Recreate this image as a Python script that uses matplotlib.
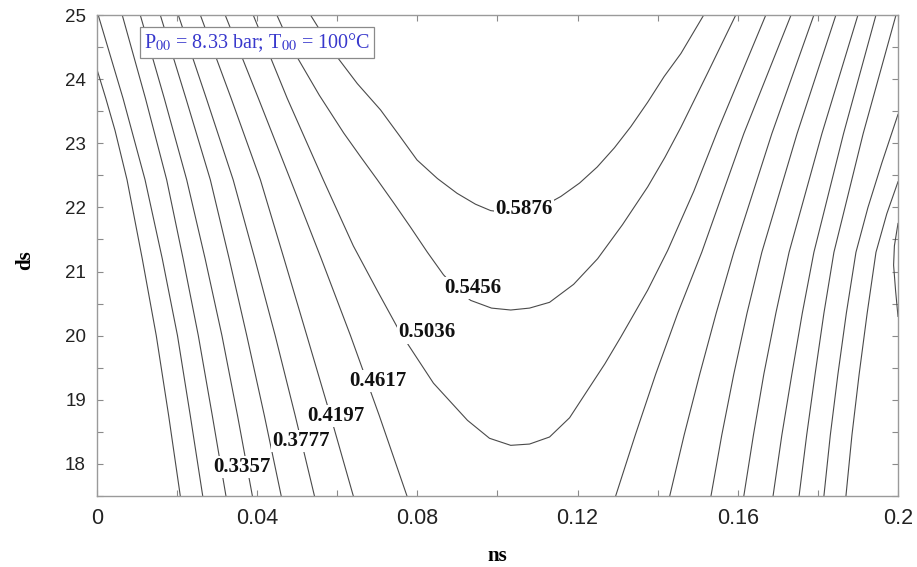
import matplotlib
matplotlib.use('Agg')
import matplotlib.pyplot as plt
from matplotlib.ticker import MultipleLocator

plt.rcParams['mathtext.fontset'] = 'stix'

# contour lines, (ns, ds) points per level
# left-hand family (efficiency rising with ns)
line_0168 = [(0.0208, 17.5), (0.0179, 18.75), (0.0148, 20.0), (0.0113, 21.2),
             (0.0075, 22.43), (0.0045, 23.2), (0.0022, 23.7), (0.0, 24.15)]
line_0210 = [(0.0264, 17.5), (0.0233, 18.75), (0.0201, 20.0), (0.0163, 21.2),
             (0.0120, 22.43), (0.0065, 23.7), (0.0003, 25.0)]
line_0252 = [(0.0322, 17.5), (0.0288, 18.75), (0.0253, 20.0), (0.0215, 21.2),
             (0.0174, 22.43), (0.0121, 23.7), (0.0063, 25.0)]
line_0294 = [(0.0388, 17.5), (0.0351, 18.75), (0.0312, 20.0), (0.0270, 21.2),
             (0.0224, 22.43), (0.0168, 23.7), (0.0108, 25.0)]
line_0336 = [(0.0460, 17.5), (0.0418, 18.75), (0.0374, 20.0), (0.0330, 21.2),
             (0.0283, 22.43), (0.0222, 23.7), (0.0158, 25.0)]
line_0378 = [(0.0543, 17.5), (0.0495, 18.75), (0.0445, 20.0), (0.0394, 21.2),
             (0.0340, 22.43), (0.0273, 23.7), (0.0203, 25.0)]
line_0420 = [(0.0640, 17.5), (0.0583, 18.75), (0.0524, 20.0), (0.0467, 21.2),
             (0.0408, 22.43), (0.0335, 23.7), (0.0258, 25.0)]
line_0462_l = [(0.0774, 17.5), (0.0705, 18.75), (0.0633, 20.0), (0.0560, 21.2),
               (0.0483, 22.43), (0.0403, 23.7), (0.0320, 25.0)]

# U shaped levels around the optimum
line_0504 = [(0.0390, 25.0), (0.0475, 23.7), (0.0565, 22.43), (0.0640, 21.4),
             (0.0700, 20.7), (0.0750, 20.13), (0.0778, 19.85), (0.0840, 19.26),
             (0.0925, 18.68), (0.0980, 18.40), (0.1033, 18.29), (0.1080, 18.31),
             (0.1130, 18.42), (0.1180, 18.72), (0.1225, 19.15), (0.1268, 19.56),
             (0.1308, 19.98), (0.1375, 20.71), (0.1425, 21.33), (0.1490, 22.25),
             (0.1550, 23.2), (0.1610, 24.1), (0.1670, 25.0)]
line_0546 = [(0.0449, 25.0), (0.0472, 24.68), (0.0499, 24.35), (0.0555, 23.75),
             (0.0616, 23.16), (0.0657, 22.8), (0.0700, 22.43), (0.0742, 22.06),
             (0.0783, 21.69), (0.0825, 21.3), (0.0865, 20.95), (0.0900, 20.72),
             (0.0933, 20.55), (0.0985, 20.43), (0.1033, 20.40), (0.1080, 20.43),
             (0.1130, 20.52), (0.1190, 20.80), (0.1250, 21.20), (0.1312, 21.73),
             (0.1375, 22.32), (0.1418, 22.78), (0.1458, 23.25), (0.1525, 24.1),
             (0.1595, 25.0)]
line_0588 = [(0.0533, 25.0), (0.0565, 24.68), (0.0599, 24.35), (0.0650, 23.93),
             (0.0708, 23.52), (0.0755, 23.12), (0.0799, 22.74), (0.0850, 22.45),
             (0.0899, 22.22), (0.0945, 22.05), (0.0983, 21.95), (0.1045, 21.90),
             (0.1100, 21.97), (0.1158, 22.17), (0.1205, 22.38), (0.1249, 22.63),
             (0.1292, 22.93), (0.1333, 23.26), (0.1375, 23.64), (0.1416, 24.04),
             (0.1458, 24.40), (0.1515, 25.0)]

# right-hand family (efficiency falling with ns)
line_0462_r = [(0.1295, 17.5), (0.1344, 18.45), (0.1395, 19.4), (0.1450, 20.35),
               (0.1510, 21.3), (0.1615, 23.15), (0.1733, 25.0)]
line_0420_r = [(0.1430, 17.5), (0.1466, 18.45), (0.1505, 19.4), (0.1546, 20.35),
               (0.1590, 21.3), (0.1685, 23.15), (0.1790, 25.0)]
line_0378_r = [(0.1533, 17.5), (0.1560, 18.45), (0.1590, 19.4), (0.1623, 20.35),
               (0.1660, 21.3), (0.1748, 23.15), (0.1845, 25.0)]
line_0336_r = [(0.1615, 17.5), (0.1639, 18.45), (0.1665, 19.4), (0.1695, 20.35),
               (0.1728, 21.3), (0.1810, 23.15), (0.1900, 25.0)]
line_0294_r = [(0.1688, 17.5), (0.1710, 18.45), (0.1735, 19.4), (0.1761, 20.35),
               (0.1790, 21.3), (0.1864, 23.15), (0.1945, 25.0)]
line_0252_r = [(0.1753, 17.5), (0.1772, 18.45), (0.1793, 19.4), (0.1815, 20.35),
               (0.1840, 21.3), (0.1913, 23.15), (0.1995, 25.0)]
line_0210_r = [(0.1815, 17.5), (0.1831, 18.45), (0.1850, 19.4), (0.1871, 20.35),
               (0.1895, 21.3), (0.1925, 22.0), (0.1960, 22.7), (0.2000, 23.45)]
line_0168_r = [(0.1870, 17.5), (0.1885, 18.45), (0.1903, 19.4), (0.1923, 20.35),
               (0.1945, 21.3), (0.1972, 21.9), (0.2000, 22.4)]
line_0126_r = [(0.2000, 20.3), (0.1994, 20.7), (0.1989, 21.1), (0.1991, 21.4),
               (0.2000, 21.75)]

all_lines = [line_0168, line_0210, line_0252, line_0294, line_0336, line_0378,
             line_0420, line_0462_l, line_0504, line_0546, line_0588,
             line_0462_r, line_0420_r, line_0378_r, line_0336_r, line_0294_r,
             line_0252_r, line_0210_r, line_0168_r, line_0126_r]

# inline labels
label_text = ['0.3357', '0.3777', '0.4197', '0.4617', '0.5036', '0.5456', '0.5876']
label_ns = [0.0361, 0.0509, 0.0596, 0.0701, 0.0824, 0.0939, 0.1066]
label_ds = [17.95, 18.36, 18.75, 19.30, 20.05, 20.75, 21.98]

x_ticks = [0, 0.04, 0.08, 0.12, 0.16, 0.2]
x_tick_labels = ['0', '0.04', '0.08', '0.12', '0.16', '0.2']
y_ticks = [18, 19, 20, 21, 22, 23, 24, 25]

fig = plt.figure(figsize=(9.17, 5.67), dpi=100)
ax = fig.add_axes([97 / 917, 71 / 567, 801 / 917, 481 / 567])

for pts in all_lines:
    xs = [p[0] for p in pts]
    ys = [p[1] for p in pts]
    ax.plot(xs, ys, color='#4a4a4a', lw=0.8, solid_joinstyle='round')

for t, x, y in zip(label_text, label_ns, label_ds):
    ax.text(x, y, t, ha='center', va='center', fontsize=15, fontweight='bold',
            family='Liberation Serif', color='#111111', zorder=5,
            bbox=dict(boxstyle='square,pad=0.05', fc='white', ec='none'))

ax.text(0.2, 0.943, r'P$_{00}$ = 8.33 bar; T$_{00}$ = 100°C', transform=ax.transAxes,
        ha='center', va='center', fontsize=14.5, family='Liberation Serif',
        color='#3838cc', zorder=6,
        bbox=dict(boxstyle='square,pad=0.2', fc='white', ec='#8a8a8a', lw=0.9))

ax.set_xlim(0, 0.2)
ax.set_ylim(17.5, 25)
ax.set_xticks(x_ticks)
ax.set_xticklabels(x_tick_labels)
ax.set_yticks(y_ticks)
ax.xaxis.set_minor_locator(MultipleLocator(0.02))
ax.yaxis.set_minor_locator(MultipleLocator(0.5))
ax.tick_params(which='both', direction='in', top=True, right=True,
               color='#8a8a8a', length=4, width=0.8)
ax.tick_params(axis='x', labelsize=15.5, pad=9, labelcolor='#222222')
ax.tick_params(axis='y', labelsize=13.5, pad=8, labelcolor='#222222')
for lab in ax.get_xticklabels() + ax.get_yticklabels():
    lab.set_family('Liberation Sans')
for sp in ax.spines.values():
    sp.set_color('#9a9a9a')
    sp.set_linewidth(1.0)

ax.set_xlabel('ns', fontsize=15, fontweight='bold', family='Liberation Serif', labelpad=12)
ax.set_ylabel('ds', fontsize=15, fontweight='bold', family='Liberation Serif')
ax.yaxis.set_label_coords(-0.077, 0.49)

fig.savefig('out.png', dpi=100)
